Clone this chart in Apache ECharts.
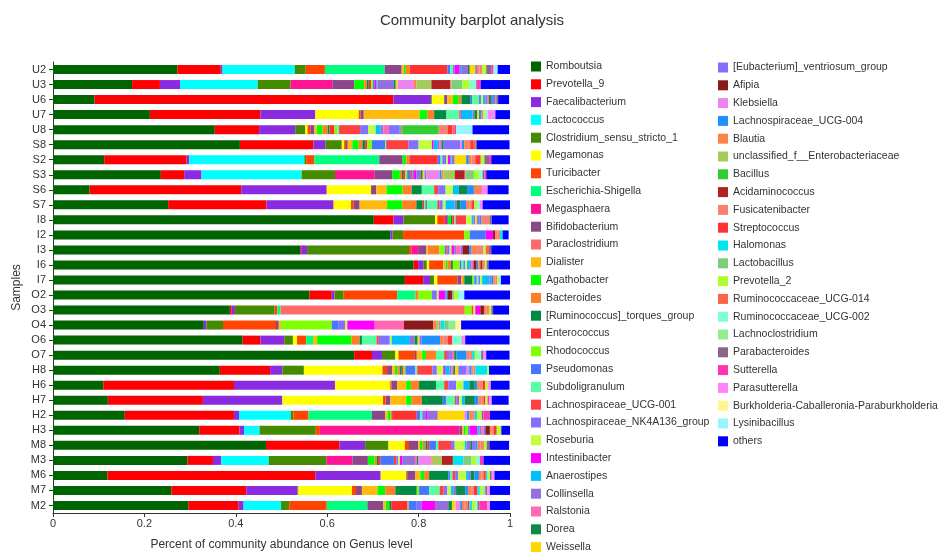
<!DOCTYPE html>
<html><head><meta charset="utf-8">
<script src="https://cdn.jsdelivr.net/npm/echarts/dist/echarts.min.js"></script>
<style>html,body{margin:0;padding:0;background:#fff}#c{width:944px;height:559px}</style>
</head><body><div id="c"></div>
<script>
const genera = ['Romboutsia','Prevotella_9','Faecalibacterium','Lactococcus','Clostridium_sensu_stricto_1','Megamonas','Turicibacter','Escherichia-Shigella','Megasphaera','Bifidobacterium',
'Paraclostridium','Dialister','Agathobacter','Bacteroides','[Ruminococcus]_torques_group','Enterococcus','Rhodococcus','Pseudomonas','Subdoligranulum','Lachnospiraceae_UCG-001',
'Lachnospiraceae_NK4A136_group','Roseburia','Intestinibacter','Anaerostipes','Collinsella','Ralstonia','Dorea','Weissella','[Eubacterium]_ventriosum_group','Afipia',
'Klebsiella','Lachnospiraceae_UCG-004','Blautia','unclassified_f__Enterobacteriaceae','Bacillus','Acidaminococcus','Fusicatenibacter','Streptococcus','Halomonas','Lactobacillus',
'Prevotella_2','Ruminococcaceae_UCG-014','Ruminococcaceae_UCG-002','Lachnoclostridium','Parabacteroides','Sutterella','Parasutterella','Burkholderia-Caballeronia-Paraburkholderia','Lysinibacillus','others'];
const colors = ['#006400','#FF0000','#8A2BE2','#00FFFF','#458B00','#FFFF00','#FF4500','#00FF7F','#FF1493','#8B4789',
'#FF6A6A','#FFB90F','#00FF00','#FF7F24','#008B45','#FF3030','#7FFF00','#4876FF','#54FF9F','#FF4040',
'#836FFF','#C0FF3E','#FF00FF','#00BFFF','#9370DB','#FF69B4','#0E8A48','#FFD700','#8470FF','#8B1A1A',
'#EE82EE','#1E90FF','#FF8247','#A2CD5A','#32CD32','#B22222','#FA8072','#FF3333','#00E5EE','#7CCD7C',
'#ADFF2F','#FF6347','#7FFFD4','#90EE90','#8B668B','#FF34B3','#FF83FA','#FFF68F','#98F5FF','#0000FF'];
const samples = ['U2','U3','U6','U7','U8','S8','S2','S3','S6','S7','I8','I2','I3','I6','I7','O2','O3','O4','O6','O7','H8','H6','H7','H2','H3','M8','M3','M6','M7','M2'];
const xTicks = [0,0.2,0.4,0.6,0.8,1];

const U2 = [0.272,0.095,0.004,0.158,0.024,0,0.042,0.131,0,0.037, 0,0.005,0.004,0.009,0,0.082,0,0.006,0.006,0, 0.004,0,0.011,0.003,0.015,0,0.004,0.012,0.004,0, 0,0,0.005,0,0,0,0.006,0,0,0, 0.009,0,0,0,0.011,0.005,0,0,0.009,0.028];
const U3 = [0.173,0.061,0.044,0.170,0.072,0,0,0,0.091,0.048, 0,0,0.022,0.006,0.004,0.005,0.004,0.004,0,0, 0,0,0.004,0.002,0.036,0,0.004,0.004,0,0, 0.036,0,0.005,0.033,0,0.041,0.003,0,0,0.024, 0.015,0,0.015,0,0,0.010,0,0,0,0.066];
const U6 = [0.091,0.654,0.082,0,0.002,0.027,0,0,0,0.007, 0,0.012,0.013,0.006,0.020,0,0,0.003,0.015,0, 0.005,0.004,0,0.005,0.004,0.004,0.006,0,0.003,0, 0,0.004,0,0,0,0,0.003,0,0,0, 0,0,0,0,0.004,0,0,0,0,0.024];
const U7 = [0.212,0.242,0.120,0,0,0.095,0.004,0,0,0.007, 0,0.122,0.017,0.015,0.027,0,0,0,0.028,0.003, 0.003,0,0,0.023,0.004,0,0.006,0.004,0,0, 0,0.005,0,0,0,0,0.004,0,0,0, 0.004,0,0.006,0,0,0,0.017,0,0,0.033];
const U8 = [0.354,0.097,0.079,0,0.022,0.005,0.006,0,0,0.009, 0,0.005,0.013,0.011,0.004,0.011,0.006,0,0.004,0.046, 0.018,0.016,0,0.011,0.006,0.012,0,0,0.023,0, 0,0.003,0.003,0,0.080,0,0.020,0.010,0,0, 0,0.004,0,0,0,0.004,0,0,0.036,0.080];
const S8 = [0.409,0.161,0.026,0,0.036,0.005,0.004,0,0,0.004, 0,0.010,0.014,0.008,0.006,0.005,0.010,0.029,0.002,0.049, 0.022,0.029,0.004,0.009,0.004,0.004,0.005,0,0.036,0, 0.004,0.005,0.006,0,0,0,0.007,0.006,0,0, 0,0.005,0,0,0.003,0,0,0,0,0.072];
const S2 = [0.112,0.180,0.006,0.252,0.004,0,0.018,0.142,0,0.051, 0,0,0.008,0.007,0,0.062,0,0.006,0.004,0, 0.008,0.004,0.005,0.003,0.007,0,0,0.025,0,0, 0,0.006,0.006,0,0,0,0.008,0.012,0,0, 0.008,0,0,0,0.010,0.005,0,0,0,0.041];
const S3 = [0.236,0.051,0.038,0.219,0.073,0,0,0,0.086,0.039, 0,0,0.017,0.004,0.003,0.005,0.004,0.008,0,0.004, 0.003,0,0.005,0,0.010,0,0.004,0.004,0.004,0, 0.029,0.004,0.004,0.025,0,0.022,0.002,0,0,0.018, 0.011,0,0.008,0,0.004,0.004,0,0,0,0.050];
const S6 = [0.080,0.332,0.187,0,0,0.097,0,0,0,0.011, 0,0.023,0.035,0.020,0.022,0,0,0,0.027,0.009, 0.016,0.016,0,0.013,0,0,0.018,0,0,0, 0,0.015,0.009,0,0,0,0.009,0,0,0, 0,0,0,0,0,0,0.012,0,0,0.046];
const S7 = [0.252,0.215,0.147,0,0,0.038,0.006,0,0,0.013, 0,0.060,0.033,0.031,0.014,0.003,0.003,0.004,0.022,0.004, 0.008,0.006,0,0.020,0.005,0,0.008,0,0,0, 0,0.012,0.007,0,0,0,0.006,0.005,0,0, 0.006,0,0.006,0,0,0,0.006,0,0,0.060];
const I8 = [0.702,0.043,0.022,0,0.069,0.005,0.015,0,0.004,0.004, 0,0,0.006,0,0.004,0.004,0,0,0.003,0.023, 0,0.012,0,0.004,0.004,0,0,0.004,0.005,0, 0,0.004,0,0,0,0,0.018,0,0,0, 0,0,0,0,0.005,0,0,0,0,0.037];
const I2 = [0.738,0,0.005,0,0.023,0,0.134,0,0,0, 0,0,0,0,0,0,0.012,0.035,0,0, 0,0,0.016,0,0,0,0,0,0,0.005, 0,0,0.005,0,0,0,0.005,0,0.006,0, 0,0,0,0,0,0,0,0,0,0.013];
const I3 = [0.541,0.002,0.013,0,0.223,0,0.005,0,0.015,0.018, 0,0.003,0,0.025,0,0,0.012,0.004,0,0.003, 0.004,0.004,0.006,0,0.004,0.010,0,0,0.004,0.015, 0,0.005,0.012,0,0,0,0.014,0,0,0, 0.005,0.007,0,0,0.005,0,0,0,0,0.041];
const I6 = [0.789,0.010,0.012,0,0.007,0.005,0.031,0,0,0, 0,0.005,0.004,0.008,0.004,0,0.015,0.004,0.004,0, 0.004,0.004,0,0.006,0.004,0.004,0,0,0,0.007, 0,0.004,0.004,0,0,0.005,0.005,0,0,0, 0.004,0,0,0,0.004,0,0,0,0,0.048];
const I7 = [0.770,0.040,0.015,0,0.009,0.007,0.044,0,0,0.009, 0,0.003,0,0.003,0.018,0,0.004,0.005,0.004,0, 0.004,0.004,0,0.016,0,0,0,0,0.004,0, 0,0.004,0.005,0,0,0,0.004,0,0,0, 0.004,0,0,0,0,0,0,0,0.004,0.022];
const O2 = [0.561,0.049,0.006,0,0.020,0,0.117,0.040,0,0, 0,0,0,0.007,0,0,0.029,0,0,0, 0.011,0.004,0.015,0.004,0,0,0,0,0,0.011, 0,0,0,0,0,0,0,0,0,0.004, 0.008,0,0.006,0,0,0,0,0,0.008,0.100];
const O3 = [0.387,0.004,0.007,0,0.087,0,0.006,0.007,0,0, 0.403,0,0,0,0,0,0.015,0,0,0.004, 0,0.004,0.011,0,0,0,0,0,0,0.008, 0,0,0.006,0,0,0,0.005,0,0,0, 0.005,0,0,0,0.004,0,0,0,0,0.035];
const O4 = [0.330,0,0.006,0,0.036,0,0.116,0,0,0.006, 0,0.005,0,0,0,0,0.111,0.014,0,0, 0.015,0.005,0.060,0,0,0.064,0,0,0,0.064, 0,0,0.006,0.006,0,0,0.004,0,0.009,0.009, 0,0,0,0.015,0,0,0,0.012,0,0.107];
const O6 = [0.415,0.039,0.052,0,0.019,0.009,0.020,0.015,0,0, 0,0.009,0.075,0.018,0.005,0,0,0,0.032,0.005, 0.024,0.004,0,0.040,0.010,0,0.007,0.004,0.005,0, 0,0.040,0.007,0,0,0,0.010,0.010,0,0, 0,0,0.018,0.003,0,0,0.007,0,0,0.097];
const O7 = [0.659,0.039,0.022,0,0.029,0.007,0.036,0,0,0.004, 0,0.012,0.008,0.022,0,0,0,0,0.018,0.006, 0.005,0,0,0,0.006,0.005,0.005,0,0,0, 0,0.022,0.006,0,0,0,0.006,0,0.006,0, 0.006,0,0.008,0,0.005,0,0.006,0,0,0.051];
const H8 = [0.365,0.110,0.027,0,0.047,0.172,0.010,0,0,0.011, 0,0.006,0.006,0.005,0.004,0.004,0.004,0.022,0.004,0.033, 0.010,0.014,0.004,0.010,0.004,0.004,0.004,0.007,0.018,0, 0.006,0.005,0.004,0,0,0,0.004,0,0.026,0, 0.004,0,0,0,0,0,0,0,0,0.046];
const H6 = [0.110,0.286,0.221,0,0,0.121,0.003,0,0,0.012, 0,0.020,0.010,0.018,0.037,0,0,0,0.018,0.009, 0.017,0.016,0,0.013,0,0,0.012,0,0,0, 0,0.005,0.006,0,0,0,0.006,0.006,0,0, 0.006,0,0,0,0,0,0.006,0,0,0.041];
const H7 = [0.120,0.208,0.174,0,0,0.220,0.006,0,0,0.010, 0,0.035,0.012,0.022,0.046,0,0,0.008,0.018,0.004, 0.006,0.006,0,0.006,0,0,0.022,0,0,0, 0,0.008,0.006,0,0,0,0.005,0.004,0,0, 0.005,0,0,0,0,0.004,0.005,0,0,0.037];
const H2 = [0.157,0.239,0.011,0.113,0.006,0,0.033,0.139,0,0.029, 0,0.005,0.007,0.003,0,0.054,0,0.008,0.004,0, 0.008,0,0.004,0,0.022,0,0,0.058,0,0, 0.006,0.005,0.006,0,0,0,0.006,0,0.005,0, 0.010,0,0,0,0.004,0.014,0,0,0,0.044];
const H3 = [0.320,0.088,0.010,0.034,0.123,0,0.009,0,0.305,0.007, 0,0.003,0.004,0,0,0,0.005,0,0,0, 0.004,0,0.017,0.004,0.004,0.005,0,0,0.004,0.010, 0,0,0.004,0,0,0,0.005,0.006,0,0, 0.010,0,0,0,0,0,0,0,0,0.019];
const M8 = [0.466,0.161,0.056,0,0.051,0.036,0.009,0,0,0.020, 0,0.004,0.006,0.006,0.004,0.004,0,0.015,0.005,0.028, 0.008,0.022,0,0.004,0.008,0,0.004,0,0.008,0, 0,0.004,0.006,0,0,0,0.008,0,0,0, 0.006,0,0,0,0.006,0,0,0,0,0.043];
const M3 = [0.294,0.056,0.018,0.104,0.126,0,0,0,0.057,0.034, 0,0,0.015,0.005,0.004,0.004,0,0.029,0,0.005, 0.004,0.004,0.005,0,0.028,0.004,0.003,0,0,0, 0.029,0,0.003,0.020,0,0.024,0,0,0.023,0.018, 0.010,0,0.008,0,0,0.008,0,0,0,0.058];
const M6 = [0.119,0.455,0.143,0,0,0.056,0.002,0,0,0.018, 0,0.011,0.008,0.011,0.042,0,0,0.004,0.005,0.006, 0.007,0.017,0,0.006,0.004,0,0.008,0,0,0, 0,0.010,0.006,0,0,0,0.005,0.004,0.004,0, 0.005,0,0,0,0.004,0,0.006,0,0,0.034];
const M7 = [0.259,0.164,0.112,0,0.002,0.117,0.009,0,0,0.013, 0,0.034,0.017,0.022,0.047,0,0.005,0.022,0.023,0.009, 0.008,0.008,0,0.006,0.005,0,0.020,0,0,0, 0,0.006,0.007,0,0,0,0.006,0.008,0.005,0, 0.006,0,0,0.006,0.004,0,0.006,0,0,0.044];
const M2 = [0.296,0.110,0.011,0.082,0.018,0,0.082,0.089,0,0.035, 0,0.005,0.008,0,0.004,0.036,0.002,0.018,0,0, 0.011,0,0.029,0,0.029,0,0.008,0.008,0,0, 0.010,0.004,0.006,0,0,0,0.006,0.004,0.006,0, 0.008,0,0.004,0,0.004,0.018,0.005,0,0,0.044];

const rows = [U2,U3,U6,U7,U8,S8,S2,S3,S6,S7,I8,I2,I3,I6,I7,O2,O3,O4,O6,O7,H8,H6,H7,H2,H3,M8,M3,M6,M7,M2];

const FONT = 'Liberation Sans, Arial, sans-serif';
const chart = echarts.init(document.getElementById('c'));
const series = genera.map((g, j) => ({
  name: g, type: 'bar', stack: 'total', barWidth: 9,
  itemStyle: { color: colors[j] },
  data: rows.map(r => r[j])
}));
const legendBase = {
  orient: 'vertical', icon: 'rect', itemWidth: 10, itemHeight: 10, itemGap: 6.8,
  selectedMode: false, height: 540, padding: 0,
  textStyle: { fontFamily: FONT, fontSize: 10.5, color: '#333', lineHeight: 10, height: 10, padding: 0 }
};
chart.setOption({
  animation: false,
  backgroundColor: '#fff',
  title: { text: 'Community barplot analysis', left: 'center', top: 8,
    textStyle: { fontFamily: FONT, fontSize: 15, fontWeight: 'normal', color: '#333' } },
  legend: [
    Object.assign({}, legendBase, { left: 531, top: 61, data: genera.slice(0, 28) }),
    Object.assign({}, legendBase, { left: 718, top: 62, data: genera.slice(28) })
  ],
  grid: { left: 53, right: 434, top: 62, bottom: 46 },
  xAxis: {
    type: 'value', min: 0, max: 1, interval: 0.2,
    name: 'Percent of community abundance on Genus level', nameLocation: 'middle', nameGap: 26,
    nameTextStyle: { fontFamily: FONT, fontSize: 12, color: '#333' },
    axisLine: { show: true, lineStyle: { color: '#333' } },
    axisTick: { show: true, length: 4, lineStyle: { color: '#333' } },
    splitLine: { show: false },
    axisLabel: { fontFamily: FONT, fontSize: 11, color: '#333', margin: 5,
      formatter: v => String(xTicks.find(t => Math.abs(t - v) < 1e-9) ?? v) }
  },
  yAxis: {
    type: 'category', inverse: true, data: samples,
    name: 'Samples', nameLocation: 'middle', nameGap: 30, nameRotate: 90,
    nameTextStyle: { fontFamily: FONT, fontSize: 12, color: '#333' },
    axisLine: { show: true, lineStyle: { color: '#333' } },
    axisTick: { show: true, alignWithLabel: true, length: 4, lineStyle: { color: '#333' } },
    axisLabel: { fontFamily: FONT, fontSize: 11, color: '#333', margin: 7, interval: 0 }
  },
  series: series
});
</script>
</body></html>
